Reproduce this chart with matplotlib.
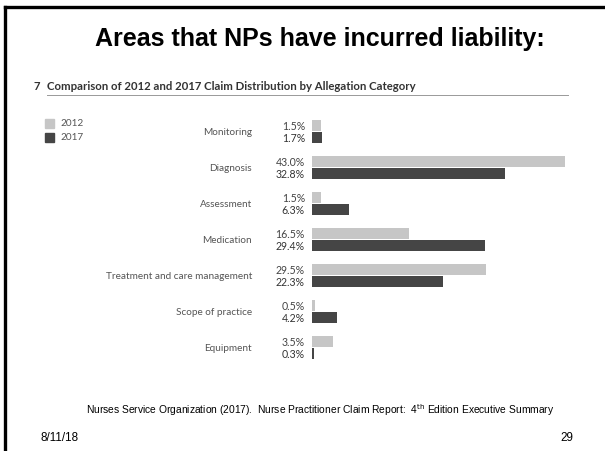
import matplotlib
matplotlib.use("Agg")
import matplotlib.pyplot as plt
import matplotlib.transforms as mtransforms
import numpy as np

categories = ["Monitoring", "Diagnosis", "Assessment", "Medication",
              "Treatment and care management", "Scope of practice", "Equipment"]
vals_2012 = [1.5, 43.0, 1.5, 16.5, 29.5, 0.5, 3.5]
vals_2017 = [1.7, 32.8, 6.3, 29.4, 22.3, 4.2, 0.3]
series_names = ["2012", "2017"]

LIGHT = "#c6c6c6"
DARK = "#454545"
W, H = 605, 452

fig = plt.figure(figsize=(W / 100, H / 100), dpi=100)

# slide border (top and left only, the rest is cropped)
fig.add_artist(plt.Line2D([5 / W, 5 / W], [0, 1 - 8 / H], color="black", lw=2.4))
fig.add_artist(plt.Line2D([5 / W, 1], [1 - 8 / H, 1 - 8 / H], color="black", lw=2.4))

fig.text(320 / W, 1 - 39 / H, "Areas that NPs have incurred liability:",
         ha="center", va="center", fontsize=18, fontweight="bold",
         family="Liberation Sans")

fig.text(34 / W, 1 - 86 / H, "7", ha="left", va="center", fontsize=8.2,
         fontweight="bold", color="#333333", family="Lato")
fig.text(47 / W, 1 - 86 / H, "Comparison of 2012 and 2017 Claim Distribution by Allegation Category",
         ha="left", va="center", fontsize=8.2, fontweight="bold", color="#333333",
         family="Lato")
fig.add_artist(plt.Line2D([47 / W, 568 / W], [1 - 96 / H, 1 - 96 / H], color="#999999", lw=0.7))

# bars
top_px, bot_px = 113, 365
ax = fig.add_axes([312 / W, 1 - bot_px / H, 253 / W, (bot_px - top_px) / H])
y = np.arange(len(categories))
ax.barh(y - 6 / 36, vals_2012, height=11 / 36, color=LIGHT)
ax.barh(y + 6 / 36, vals_2017, height=11 / 36, color=DARK)
ax.set_xlim(0, 43.0)
ax.set_ylim(6.472, -0.528)
ax.axis("off")

tr = mtransforms.blended_transform_factory(fig.transFigure, ax.transData)
for i, cat in enumerate(categories):
    ax.text(252 / W, i, cat, transform=tr, ha="right", va="center",
            fontsize=7.2, color="#555555", family="Lato")
    ax.text(305 / W, i - 6 / 36, f"{vals_2012[i]:.1f}%", transform=tr, ha="right",
            va="center", fontsize=7.6, color="#444444", family="Lato")
    ax.text(305 / W, i + 6 / 36, f"{vals_2017[i]:.1f}%", transform=tr, ha="right",
            va="center", fontsize=7.6, color="#333333", family="Lato")

# legend
for k, (name, col) in enumerate(zip(series_names, [LIGHT, DARK])):
    yy = 1 - (124 + 14 * k) / H
    fig.add_artist(plt.Rectangle((45 / W, yy - 4.5 / H), 9 / W, 9 / H,
                                 color=col, transform=fig.transFigure))
    fig.text(60 / W, yy, name, ha="left", va="center", fontsize=7.2,
             color="#555555", family="Lato")

fig.text(320 / W, 1 - 410 / H,
         "Nurses Service Organization (2017).  Nurse Practitioner Claim Report:  4$^{\\rm th}$ Edition Executive Summary",
         ha="center", va="center", fontsize=7.4, family="Liberation Sans")
fig.text(41 / W, 1 - 438 / H, "8/11/18", ha="left", va="center", fontsize=8.4,
         family="Liberation Sans")
fig.text(573 / W, 1 - 438 / H, "29", ha="right", va="center", fontsize=8.4,
         family="Liberation Sans")

fig.savefig("out.png", dpi=100)
